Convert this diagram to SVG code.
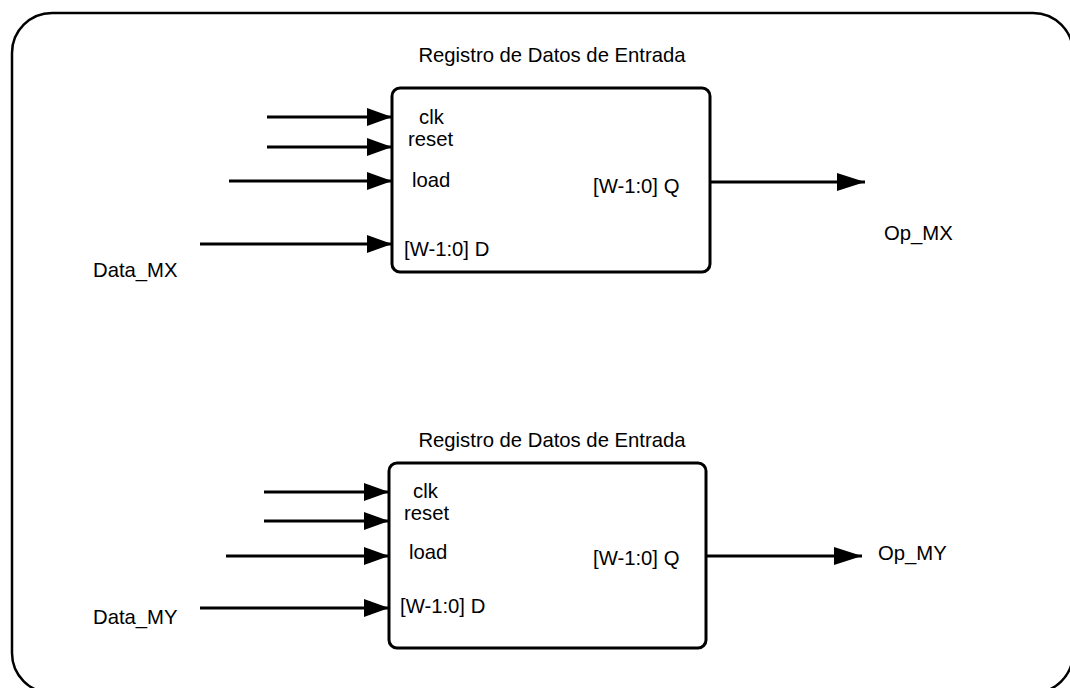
<svg xmlns="http://www.w3.org/2000/svg" width="1070" height="688" viewBox="0 0 1070 688">
<style>
.t{font-family:"Liberation Sans",Arial,sans-serif;font-size:20.3px;fill:#000}
.box{fill:#fff;stroke:#000;stroke-width:3}
.w{stroke:#000;stroke-width:3;fill:none}
</style>
<defs>
<marker id="ah" viewBox="0 0 25 18" refX="25" refY="9" markerWidth="25" markerHeight="18" markerUnits="userSpaceOnUse" orient="auto">
<path d="M0,0 L25,9 L0,18 Z" fill="#000"/>
</marker>
<marker id="ah2" viewBox="0 0 28 18" refX="28" refY="9" markerWidth="28" markerHeight="18" markerUnits="userSpaceOnUse" orient="auto">
<path d="M0,0 L28,9 L0,18 Z" fill="#000"/>
</marker>
</defs>
<rect x="0" y="0" width="1070" height="688" fill="#fff"/>
<g id="frame"><rect x="12" y="13" width="1061" height="680" rx="40" ry="40" fill="none" stroke="#000" stroke-width="2.5"/></g>
<g id="reg1">
<text class="t" x="552" y="62" text-anchor="middle">Registro de Datos de Entrada</text>
<rect class="box" x="392" y="88" width="318" height="184" rx="8"/>
<text class="t" x="419" y="124">clk</text>
<text class="t" x="408" y="146">reset</text>
<text class="t" x="412" y="187">load</text>
<text class="t" x="404" y="256">[W-1:0] D</text>
<text class="t" x="593" y="193">[W-1:0] Q</text>
</g>
<g id="reg2">
<text class="t" x="552" y="447" text-anchor="middle">Registro de Datos de Entrada</text>
<rect class="box" x="389" y="463" width="317" height="185" rx="8"/>
<text class="t" x="413" y="498">clk</text>
<text class="t" x="404" y="520">reset</text>
<text class="t" x="409" y="559">load</text>
<text class="t" x="400" y="613">[W-1:0] D</text>
<text class="t" x="593" y="565">[W-1:0] Q</text>
</g>
<g id="Data_MX"><text class="t" x="93" y="277">Data_MX</text></g>
<g id="Op_MX"><text class="t" x="884" y="240">Op_MX</text></g>
<g id="Data_MY"><text class="t" x="93" y="624">Data_MY</text></g>
<g id="Op_MY"><text class="t" x="878" y="560">Op_MY</text></g>
<g id="connectors">
<line class="w" x1="267" y1="117" x2="392" y2="117" marker-end="url(#ah)"/>
<line class="w" x1="267" y1="147" x2="392" y2="147" marker-end="url(#ah)"/>
<line class="w" x1="229" y1="181" x2="392" y2="181" marker-end="url(#ah)"/>
<line class="w" x1="200" y1="244" x2="392" y2="244" marker-end="url(#ah)"/>
<line class="w" x1="710" y1="182" x2="865" y2="182" marker-end="url(#ah2)"/>
<line class="w" x1="264" y1="492" x2="389" y2="492" marker-end="url(#ah)"/>
<line class="w" x1="264" y1="521" x2="389" y2="521" marker-end="url(#ah)"/>
<line class="w" x1="226" y1="556" x2="389" y2="556" marker-end="url(#ah)"/>
<line class="w" x1="200" y1="608" x2="389" y2="608" marker-end="url(#ah)"/>
<line class="w" x1="706" y1="556" x2="862" y2="556" marker-end="url(#ah2)"/>
</g>
</svg>
